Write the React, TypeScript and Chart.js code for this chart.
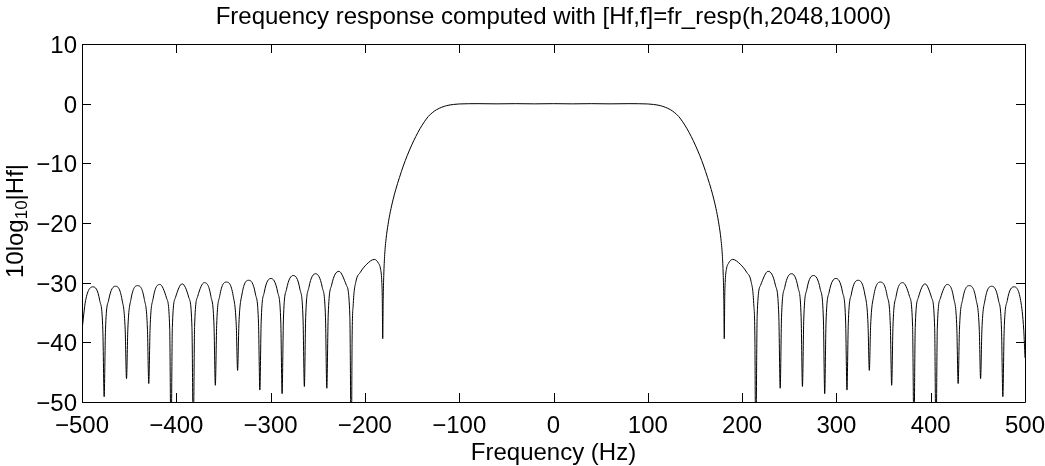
import { useEffect, useRef } from 'react';
import { Chart, registerables } from 'chart.js';

Chart.register(...registerables);

const FONT = '"Liberation Sans", Arial, Helvetica, sans-serif';

const titleText = 'Frequency response computed with [Hf,f]=fr_resp(h,2048,1000)';
const xLabelText = 'Frequency (Hz)';
const yLabelParts = ['10log', '10', '|Hf|'];

const xTickValues = [-500, -400, -300, -200, -100, 0, 100, 200, 300, 400, 500];
const xTickLabels = ['\u2212500', '\u2212400', '\u2212300', '\u2212200', '\u2212100', '0', '100', '200', '300', '400', '500'];
const yTickValues = [-50, -40, -30, -20, -10, 0, 10];
const yTickLabels = ['\u221250', '\u221240', '\u221230', '\u221220', '\u221210', '0', '10'];

// frequency (Hz)
const freqHz = [
  -500, -496.2, -488.2, -481.2, -477.9, -476.5,
  -475.1, -471.7, -464.6, -457.5, -454.2, -452.8,
  -451.4, -448.1, -441.0, -433.9, -430.6, -429.2,
  -427.8, -424.5, -417.4, -410.3, -407.0, -405.6,
  -404.2, -400.9, -393.8, -386.7, -383.4, -382.0,
  -380.6, -377.3, -370.3, -363.3, -360.0, -358.6,
  -357.2, -353.9, -346.8, -339.7, -336.4, -335.0,
  -333.6, -330.3, -323.2, -316.1, -312.8, -311.4,
  -310.0, -306.7, -299.6, -292.5, -289.2, -287.8,
  -286.4, -283.1, -276.0, -268.9, -265.6, -264.2,
  -262.8, -259.4, -252.3, -245.2, -241.8, -240.4,
  -238.9, -235.3, -227.6, -219.7, -216.0, -214.4,
  -213.6, -212.3, -209.5, -205.0, -198.0, -190.0, -185.8, -183.3, -182.2, -181.6, -181.1,
  -180.6, -180.0, -179.0, -177.5, -175.5, -173.0, -170.0, -167.3, -163.3, -159.3, -155.0,
  -150.4, -146.0, -141.6, -137.0, -132.8, -128.0, -123.9, -118.5, -113.3, -106.0, -100.0,
  -80, -60, -40, -20, 0, 20, 40, 60, 80,
  100.0, 106.0, 113.3, 118.5, 123.9, 128.0, 132.8, 137.0, 141.6, 146.0, 150.4,
  155.0, 159.3, 163.3, 167.3, 170.0, 173.0, 175.5, 177.5, 179.0, 180.0, 180.6, 181.1,
  181.6, 182.2, 183.3, 185.8, 190.0, 198.0, 205.0, 209.5, 212.3, 213.6, 214.4,
  216.0, 219.7, 227.6, 235.3, 238.9, 240.4,
  241.8, 245.2, 252.3, 259.3, 262.6, 264.0,
  265.4, 268.7, 275.8, 282.9, 286.2, 287.6,
  289.0, 292.3, 299.4, 306.5, 309.8, 311.2,
  312.6, 315.9, 323.0, 330.1, 333.5, 334.9,
  336.3, 339.6, 346.7, 353.8, 357.2, 358.6,
  360.0, 363.3, 370.4, 377.5, 380.8, 382.2,
  383.6, 386.9, 393.9, 400.9, 404.2, 405.6,
  407.0, 410.3, 417.4, 424.4, 427.7, 429.1,
  430.5, 433.9, 441.0, 448.1, 451.5, 452.9,
  454.3, 457.6, 464.7, 471.8, 475.1, 476.5,
  477.9, 481.2, 488.3, 495.4, 498.7, 500,
];

// 10log10|Hf| (dB)
const magDb = [
  -38.0, -33.0, -30.7, -33.0, -38.0, -49.1,
  -37.9, -32.9, -30.6, -32.9, -37.9, -46.1,
  -37.8, -32.8, -30.5, -32.8, -37.8, -46.9,
  -37.6, -32.6, -30.3, -32.6, -37.6, -58,
  -37.5, -32.5, -30.2, -32.5, -37.5, -56,
  -37.3, -32.3, -30.0, -32.3, -37.3, -47.2,
  -37.2, -32.2, -29.9, -32.2, -37.2, -44.7,
  -36.9, -31.9, -29.6, -31.9, -36.9, -48.0,
  -36.6, -31.6, -29.3, -31.6, -36.6, -48.6,
  -36.1, -31.1, -28.8, -31.1, -36.1, -47.4,
  -35.8, -30.8, -28.5, -30.8, -35.8, -47.7,
  -35.4, -30.4, -28.1, -30.4, -35.4, -60,
  -40, -33.5, -29.8, -28.3, -26.9, -26.1, -26.7, -27.8, -29.5, -32.3, -39.4,
  -32.8, -28.8, -25.3, -22.6, -20.3, -18.1, -16.0, -14.4, -12.35, -10.45, -8.65,
  -6.95, -5.5, -4.2, -3.05, -2.15, -1.45, -1.0, -0.6, -0.33, -0.13, -0.05,
  0, -0.03, 0, -0.03, 0, -0.03, 0, -0.03, 0,
  -0.05, -0.13, -0.33, -0.6, -1.0, -1.45, -2.15, -3.05, -4.2, -5.5, -6.95,
  -8.65, -10.45, -12.35, -14.4, -16.0, -18.1, -20.3, -22.6, -25.3, -28.8, -32.8, -39.4,
  -32.3, -29.5, -27.8, -26.7, -26.1, -26.9, -28.3, -29.8, -33.5, -40, -60,
  -35.4, -30.4, -28.1, -30.4, -35.4, -47.7,
  -35.8, -30.8, -28.5, -30.8, -35.8, -47.4,
  -36.1, -31.1, -28.8, -31.1, -36.1, -48.6,
  -36.6, -31.6, -29.3, -31.6, -36.6, -48.0,
  -36.9, -31.9, -29.6, -31.9, -36.9, -44.7,
  -37.2, -32.2, -29.9, -32.2, -37.2, -47.2,
  -37.3, -32.3, -30.0, -32.3, -37.3, -56,
  -37.5, -32.5, -30.2, -32.5, -37.5, -58,
  -37.6, -32.6, -30.3, -32.6, -37.6, -46.9,
  -37.8, -32.8, -30.5, -32.8, -37.8, -46.1,
  -37.9, -32.9, -30.6, -32.9, -37.9, -49.1,
  -38.0, -33.0, -30.7, -33.0, -38.0, -42.6,
];

const W = 1045;
const H = 466;

const framePlugin = {
  id: 'matlabFrame',
  afterDraw(chart: any) {
    const { ctx, chartArea } = chart;
    const { left, right, top, bottom } = chartArea;
    const xs = chart.scales.x;
    const ys = chart.scales.y;
    ctx.save();
    ctx.strokeStyle = '#000';
    ctx.lineWidth = 1;
    ctx.beginPath();
    ctx.rect(Math.round(left) + 0.5, Math.round(top) + 0.5, Math.round(right) - Math.round(left), Math.round(bottom) - Math.round(top));
    const tl = 9;
    xTickValues.forEach((v) => {
      const px = Math.round(xs.getPixelForValue(v)) + 0.5;
      ctx.moveTo(px, bottom);
      ctx.lineTo(px, bottom - tl);
      ctx.moveTo(px, top);
      ctx.lineTo(px, top + tl);
    });
    yTickValues.forEach((v) => {
      const py = Math.round(ys.getPixelForValue(v)) + 0.5;
      ctx.moveTo(left, py);
      ctx.lineTo(left + tl, py);
      ctx.moveTo(right, py);
      ctx.lineTo(right - tl, py);
    });
    ctx.stroke();

    const cx = (left + right) / 2;
    ctx.fillStyle = '#000';
    ctx.textBaseline = 'alphabetic';
    ctx.textAlign = 'center';
    ctx.font = `24px ${FONT}`;
    ctx.fillText(titleText, cx, 23.5);
    ctx.fillText(xLabelText, cx, 460);

    // y label with subscript, rotated
    const bigFont = `24px ${FONT}`;
    const subFont = `17px ${FONT}`;
    ctx.font = bigFont;
    const w1 = ctx.measureText(yLabelParts[0]).width;
    const w3 = ctx.measureText(yLabelParts[2]).width;
    ctx.font = subFont;
    const w2 = ctx.measureText(yLabelParts[1]).width;
    const total = w1 + w2 + w3;
    ctx.translate(22.5, (top + bottom) / 2 - 2);
    ctx.rotate(-Math.PI / 2);
    ctx.textAlign = 'left';
    const start = -total / 2;
    ctx.font = bigFont;
    ctx.fillText(yLabelParts[0], start, 0);
    ctx.font = subFont;
    ctx.fillText(yLabelParts[1], start + w1, 4);
    ctx.font = bigFont;
    ctx.fillText(yLabelParts[2], start + w1 + w2, 0);
    ctx.restore();
  },
};

export default function App() {
  const ref = useRef<HTMLCanvasElement | null>(null);
  useEffect(() => {
    if (!ref.current) return;
    Chart.defaults.font.family = FONT;
    Chart.defaults.font.size = 24;
    Chart.defaults.color = '#000';
    const chart = new Chart(ref.current, {
      type: 'line',
      data: {
        datasets: [
          {
            data: freqHz.map((f, i) => ({ x: f, y: magDb[i] })),
            borderColor: '#000',
            borderWidth: 1,
            pointRadius: 0,
            fill: false,
            cubicInterpolationMode: 'monotone',
          },
        ],
      },
      options: {
        animation: false,
        responsive: false,
        devicePixelRatio: 1,
        layout: { padding: { top: 44, right: 20, left: 0, bottom: 0 } },
        plugins: {
          legend: { display: false },
          tooltip: { enabled: false },
          title: { display: false },
        },
        scales: {
          x: {
            type: 'linear',
            min: -500,
            max: 500,
            grid: { display: false, drawTicks: false },
            border: { display: false },
            ticks: {
              padding: 10,
              maxRotation: 0,
              autoSkip: false,
              color: '#000',
              font: { size: 24, family: FONT },
              callback: (v: any) => {
                const i = xTickValues.indexOf(Number(v));
                return i >= 0 ? xTickLabels[i] : '';
              },
            },
            afterBuildTicks: (s: any) => {
              s.ticks = xTickValues.map((v) => ({ value: v }));
            },
            afterFit: (s: any) => {
              s.height = 64;
              s.paddingLeft = 0;
              s.paddingRight = 0;
            },
          },
          y: {
            type: 'linear',
            min: -50,
            max: 10,
            grid: { display: false, drawTicks: false },
            border: { display: false },
            ticks: {
              padding: 5,
              labelOffset: 2.5,
              color: '#000',
              font: { size: 24, family: FONT },
              callback: (v: any) => {
                const i = yTickValues.indexOf(Number(v));
                return i >= 0 ? yTickLabels[i] : '';
              },
            },
            afterBuildTicks: (s: any) => {
              s.ticks = yTickValues.map((v) => ({ value: v }));
            },
            afterFit: (s: any) => {
              s.width = 82;
              s.paddingTop = 0;
              s.paddingBottom = 0;
            },
          },
        },
      },
      plugins: [framePlugin],
    } as any);
    return () => chart.destroy();
  }, []);

  return (
    <div style={{ position: 'fixed', left: 0, top: 0, width: W, height: H, background: '#fff' }}>
      <canvas ref={ref} width={W} height={H} style={{ display: 'block', width: W, height: H }} />
    </div>
  );
}
